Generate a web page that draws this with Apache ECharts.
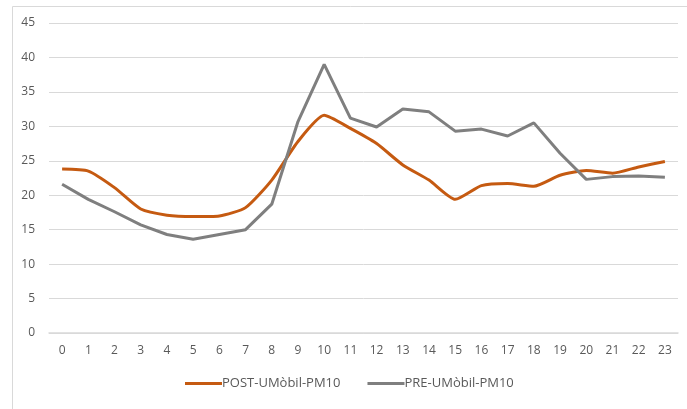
<!DOCTYPE html>
<html>
<head>
<meta charset="utf-8">
<script src="https://cdn.jsdelivr.net/npm/echarts@6/dist/echarts.min.js"></script>
<style>
    html, body { margin: 0; padding: 0; background: #fff; }
    #chart { width: 687px; height: 409px; }
</style>
</head>
<body>
<div id="chart"></div>
<script>
    // hores del dia
    var hours = ['0', '1', '2', '3', '4', '5', '6', '7', '8', '9', '10', '11',
        '12', '13', '14', '15', '16', '17', '18', '19', '20', '21', '22', '23'];
    // PM10 després de UMòbil
    var postValues = [23.8, 23.5, 21.1, 18.0, 17.1, 16.9, 17.0, 18.2, 22.2, 27.8, 31.6, 29.7,
        27.5, 24.4, 22.2, 19.4, 21.4, 21.7, 21.3, 22.9, 23.6, 23.2, 24.1, 24.9];
    // PM10 abans de UMòbil
    var preValues = [21.6, 19.4, 17.6, 15.7, 14.3, 13.6, 14.3, 15.0, 18.7, 30.7, 39.0, 31.2,
        29.9, 32.5, 32.1, 29.3, 29.6, 28.6, 30.5, 26.1, 22.3, 22.7, 22.8, 22.6];
    var seriesNames = ['POST-UMòbil-PM10', 'PRE-UMòbil-PM10'];

    var labelFont = 'Open Sans, Liberation Sans, sans-serif';
    var chart = echarts.init(document.getElementById('chart'));
    chart.setOption({
        animation: false,
        graphic: [{
            type: 'rect',
            left: 10, top: 4,
            shape: { width: 700, height: 420 },
            style: { fill: 'none', stroke: '#D9D9D9', lineWidth: 1 }
        }],
        grid: { left: 49, right: 9, top: 23, bottom: 76 },
        legend: {
            bottom: 14,
            left: 180,
            itemWidth: 37,
            itemHeight: 3,
            itemGap: 27,
            icon: 'rect',
            textStyle: { color: '#595959', fontSize: 13, fontFamily: labelFont, padding: [0, 0, 0, -5] },
            data: seriesNames
        },
        xAxis: {
            type: 'category',
            boundaryGap: true,
            data: hours,
            axisLine: { lineStyle: { color: '#D9D9D9', width: 1.5 } },
            axisTick: { show: false },
            axisLabel: { color: '#595959', fontSize: 12, fontFamily: labelFont, margin: 12 }
        },
        yAxis: {
            type: 'value',
            min: 0,
            max: 45,
            interval: 5,
            axisLine: { show: false },
            axisTick: { show: false },
            axisLabel: { color: '#595959', fontSize: 12, fontFamily: labelFont, margin: 14 },
            splitLine: { lineStyle: { color: '#D9D9D9', width: 1 } }
        },
        series: [{
            name: seriesNames[0],
            type: 'line',
            data: postValues,
            showSymbol: false,
            smooth: 0.2,
            lineStyle: { color: '#C55A11', width: 3 },
            itemStyle: { color: '#C55A11' }
        }, {
            name: seriesNames[1],
            type: 'line',
            data: preValues,
            showSymbol: false,
            lineStyle: { color: '#7F7F7F', width: 3 },
            itemStyle: { color: '#7F7F7F' }
        }]
    });
</script>
</body>
</html>
